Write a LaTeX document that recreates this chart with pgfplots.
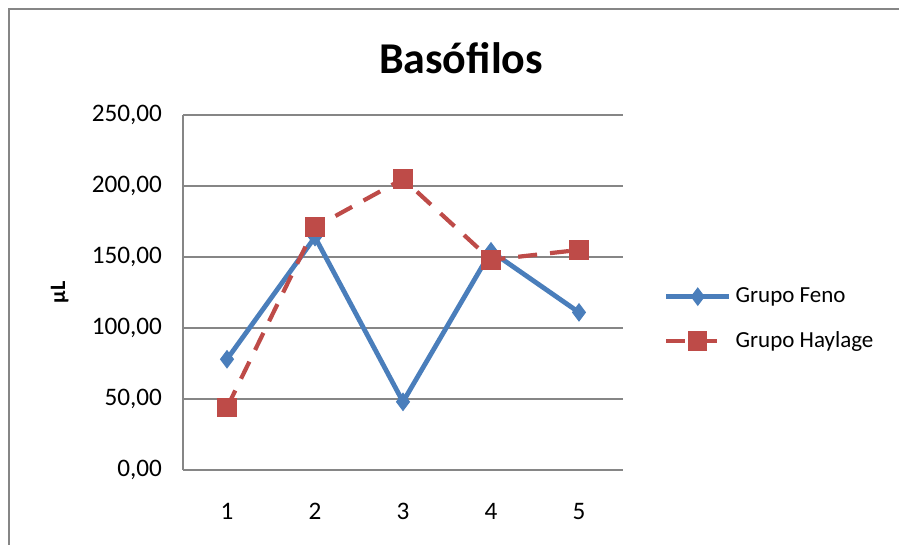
\documentclass[border=0pt]{standalone}
\usepackage{fontspec}
\setmainfont{Carlito}
\usepackage{pgfplots}
\pgfplotsset{compat=1.18}
\definecolor{feno}{HTML}{4A7EBB}
\definecolor{hay}{HTML}{BE4B48}
\definecolor{gridc}{HTML}{868686}
\begin{document}
\begin{tikzpicture}
\useasboundingbox (0,0) rectangle (449.5pt,272.5pt);
\fill[gridc] (4pt,0pt) rectangle (5pt,268.5pt);
\fill[gridc] (4pt,267.5pt) rectangle (449.5pt,268.5pt);
\node[font=\fontsize{22}{26}\selectfont\bfseries] at (230.5pt,243.5pt) {Basófilos};
\begin{axis}[
  at={(91.5pt,37.5pt)}, anchor=south west,
  scale only axis, width=220pt, height=177.5pt,
  xmin=0.5, xmax=5.5, ymin=0, ymax=250,
  xtick={1,2,3,4,5}, ytick={0,50,100,150,200,250},
  axis x line*=bottom, axis y line*=left,
  axis line style={gridc, line width=0.7pt, -},
  ymajorgrids, grid style={gridc, line width=0.7pt},
  major tick length=0pt,
  /pgf/number format/assume math mode=true,
  yticklabel style={/pgf/number format/fixed, /pgf/number format/fixed zerofill, /pgf/number format/precision=2, /pgf/number format/use comma, /pgf/number format/1000 sep={}},
  yticklabel style={font=\fontsize{12.6}{14}\selectfont, xshift=-7pt},
  xticklabel style={font=\fontsize{12.6}{14}\selectfont, yshift=-13pt},
  ylabel={µL},
  every axis y label/.style={at={(axis description cs:-0.28,0.5)}, rotate=90, anchor=center, font=\fontsize{11}{13}\selectfont\bfseries},
  legend style={at={(1.092,0.425)}, anchor=west, draw=none, fill=none, inner sep=0pt,
    font=\fontsize{11.5}{13}\selectfont, row sep=9pt},
  legend cell align=left,
  legend image code/.code={\draw[mark repeat=2,mark phase=2,#1] plot coordinates {(0pt,0pt) (15.75pt,0pt) (31.5pt,0pt)};},
  clip=false,
]
\addplot[color=feno, line width=2.4pt, mark=diamond*, mark size=4.3pt, mark options={solid, fill=feno, line width=0.5pt}]
  coordinates {(1,78) (2,164) (3,48) (4,154) (5,111)};
\addlegendentry{Grupo Feno}
\addplot[color=hay, line width=2.1pt, dash pattern=on 9.5pt off 6.5pt, mark=square*, mark size=4.6pt, mark options={solid, fill=hay, line width=0.5pt}]
  coordinates {(1,44) (2,171) (3,205) (4,148) (5,155)};
\addlegendentry{Grupo Haylage}
\end{axis}
\end{tikzpicture}
\end{document}
